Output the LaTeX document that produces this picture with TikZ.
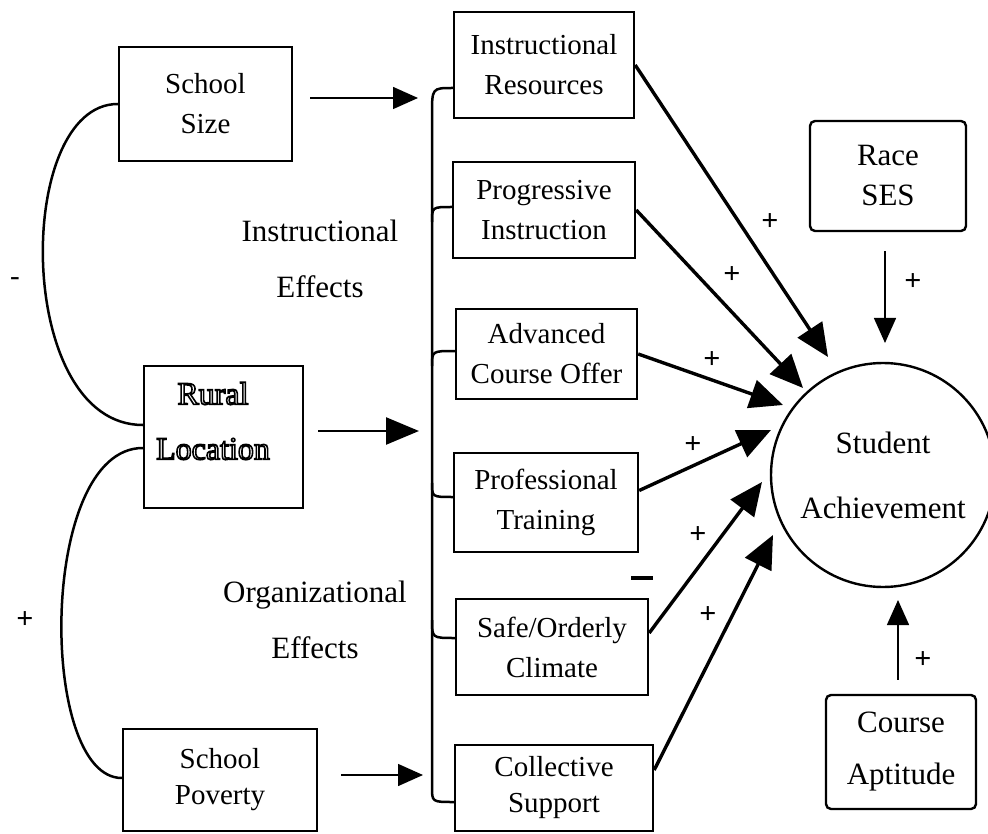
\documentclass[tikz,border=0pt]{standalone}
\usepackage{fontspec}
\setmainfont{Liberation Serif}
\usetikzlibrary{arrows.meta}
\newcommand{\hollowtext}[1]{\special{pdf:code q 1 Tr 1.6 w}#1\special{pdf:code Q}}
\tikzset{
  every node/.style={font=\fontsize{29}{40}\selectfont},
  big/.style={font=\fontsize{31}{40}\selectfont},
  box/.style={draw, line width=2.4pt, align=center, inner sep=0pt},
  rbox/.style={box, rounded corners=5pt},
  lbl/.style={align=center, inner sep=0pt},
  sign/.style={inner sep=0pt, font=\fontsize{30}{36}\selectfont\bfseries},
  link/.style={line width=2.5pt},
  bigarrow/.style={line width=3.4pt, -{Triangle[length=33pt,width=29pt]}},
  midarrow/.style={line width=2.4pt, -{Triangle[length=33pt,width=27pt]}},
  smallarrow/.style={line width=1.5pt, -{Triangle[length=25pt,width=22pt]}},
}
\begin{document}
\begin{tikzpicture}[x=1pt,y=-1pt]
\useasboundingbox (0,0) rectangle (988,834);
% left column
\node[box, minimum width=173pt, minimum height=114pt] (size) at (205.5,104) {School\\Size};
\node[box, minimum width=159pt, minimum height=142pt] (rural) at (223.5,437) {};
\node[lbl, font=\fontsize{32}{40}\selectfont] (ruraltxt) at (213,421) {\hollowtext{Rural}\\[15pt]\hollowtext{Location}};
\node[box, minimum width=194pt, minimum height=102pt] (pov) at (220,780) {School\\[-4pt]Poverty};
% middle column
\node[box, minimum width=180pt, minimum height=106pt] (res) at (544,65) {Instructional\\Resources};
\node[box, minimum width=182pt, minimum height=96pt] (prog) at (544,210) {Progressive\\Instruction};
\node[box, minimum width=181pt, minimum height=90pt] (adv) at (546.5,354) {Advanced\\Course Offer};
\node[box, minimum width=184pt, minimum height=99pt] (prof) at (546,502.5) {Professional\\Training};
\node[box, minimum width=192pt, minimum height=96pt] (safe) at (552,647) {Safe/Orderly\\Climate};
\node[box, minimum width=198pt, minimum height=86pt] (coll) at (554,788) {Collective\\[-4pt]Support};
% right column
\node[rbox, big, minimum width=156pt, minimum height=110pt] (race) at (888,176) {Race\\SES};
\node[rbox, big, minimum width=150pt, minimum height=114pt] (apt) at (901,752) {Course\\[12pt]Aptitude};
\node[draw, circle, big, line width=2.4pt, minimum size=224pt, inner sep=0pt, align=center] (ach) at (883,475) {Student\\[25pt]Achievement};
% effect labels
\node[lbl, big] (ie) at (320,259) {Instructional\\[16pt]Effects};
\node[lbl, big] (oe) at (315,620) {Organizational\\[16pt]Effects};
% left correlation curves
\draw[link] (size.west) .. controls (14,104) and (14,425) .. ([yshift=12pt]rural.west);
\draw[link] ([yshift=-11pt]rural.west) .. controls (38,448) and (38,778) .. ([yshift=2pt]pov.west);
\node[lbl] (minus1) at (15,282) {-};
\node[sign] (plus0) at (25,620) {+};
% bracket
\draw[link] ([yshift=-23pt]res.west) .. controls (432,88) .. (432,115) -- (432,787) .. controls (432,802) .. ([yshift=-14pt]coll.west);
\draw[link] (432,222) .. controls (432,207) .. ([yshift=3pt]prog.west);
\draw[link] (432,366) .. controls (432,351) .. ([yshift=3pt]adv.west);
\draw[link] (432,483) .. controls (432,497) .. ([yshift=5.5pt]prof.west);
\draw[link] (432,620) .. controls (432,638) .. ([yshift=9pt]safe.west);
% arrows into bracket
\coordinate (b1) at (418,98);
\coordinate (b2) at (419,431);
\coordinate (b3) at (423,775);
\draw[smallarrow] ([xshift=17pt,yshift=6pt]size.east) -- (b1);
\draw[midarrow] ([xshift=14pt,yshift=6pt]rural.east) -- (b2);
\draw[smallarrow] ([xshift=23pt,yshift=5pt]pov.east) -- (b3);
% arrows into achievement
\coordinate (t1) at (828,357);
\coordinate (t2) at (803,388);
\coordinate (t3) at (783,405);
\coordinate (t4) at (771,430);
\coordinate (t5) at (762,482);
\coordinate (t6) at (773,535);
\coordinate (t7) at (885,343);
\coordinate (t8) at (898,600);
\draw[bigarrow] (res.east) -- (t1);
\draw[bigarrow] (prog.east) -- (t2);
\draw[bigarrow] (adv.east) -- (t3);
\draw[bigarrow] ([yshift=12pt]prof.east) -- (t4);
\draw[bigarrow] ([yshift=14pt]safe.east) -- (t5);
\draw[bigarrow] ([yshift=18pt]coll.east) -- (t6);
\draw[smallarrow] ([xshift=-3pt,yshift=-19pt]race.south) -- (t7);
\draw[smallarrow] ([xshift=-3pt,yshift=14pt]apt.north) -- (t8);
% signs
\node[sign] (p1) at (770,222) {+};
\node[sign] (p2) at (732,275) {+};
\node[sign] (p3) at (712,360) {+};
\node[sign] (p4) at (913,282) {+};
\node[sign] (p5) at (693,445) {+};
\node[sign] (p6) at (698,535) {+};
\node[lbl] (m2) at (642,578) {\rule{22pt}{3.5pt}};
\node[sign] (p7) at (708,615) {+};
\node[sign] (p8) at (923,660) {+};
\end{tikzpicture}
\end{document}
